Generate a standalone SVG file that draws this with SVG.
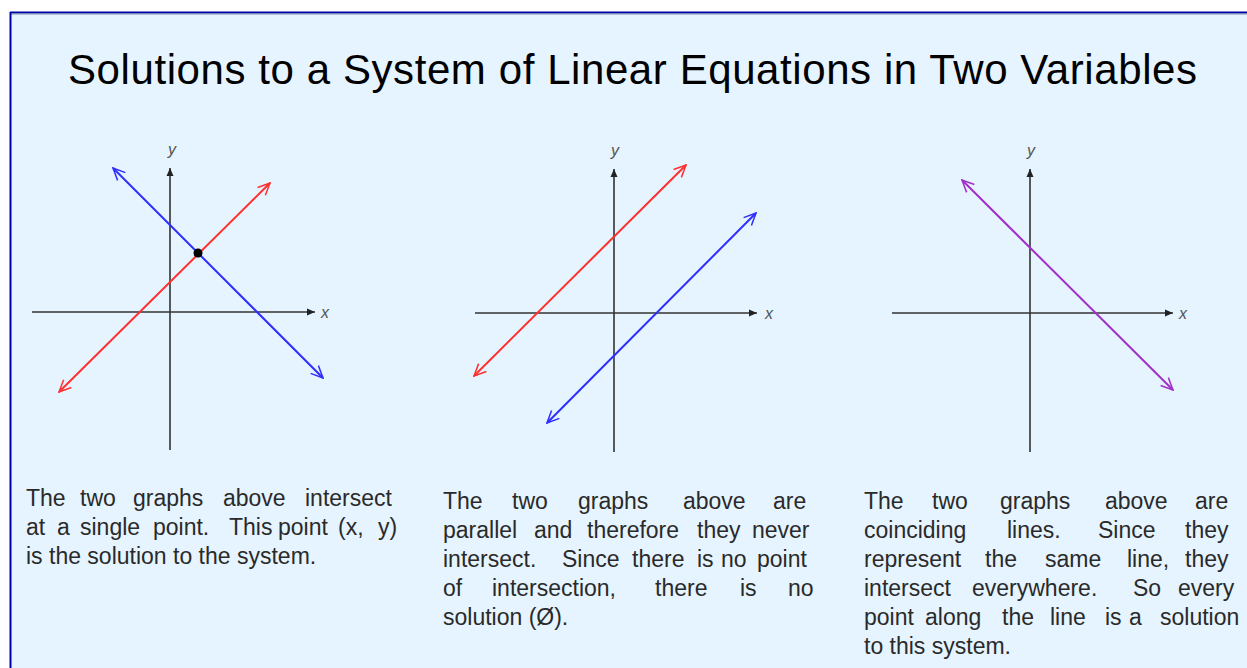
<svg xmlns="http://www.w3.org/2000/svg" width="1247" height="668" viewBox="0 0 1247 668">
<style>
.title{font-family:"Liberation Sans",Arial,sans-serif;font-size:42px;fill:#000}
.body{font-family:"Liberation Sans",Arial,sans-serif;font-size:23px;fill:#2a2a2a}
.lbl{font-family:"Liberation Sans",Arial,sans-serif;font-size:16px;font-style:italic;fill:#555;text-anchor:middle}
.axis{stroke:#333;stroke-width:1.6;fill:none;marker-end:url(#ax)}
.red{stroke:#FF3030;stroke-width:2;fill:none;marker-start:url(#mr);marker-end:url(#mr)}
.blue{stroke:#2E2EFF;stroke-width:2;fill:none;marker-start:url(#mb);marker-end:url(#mb)}
.purple{stroke:#A030C8;stroke-width:2;fill:none;marker-start:url(#mp);marker-end:url(#mp)}
</style>
<defs>
<marker id="ax" viewBox="-9 -5 10 10" refX="0" refY="0" markerWidth="10" markerHeight="10" markerUnits="userSpaceOnUse" orient="auto"><path d="M0,0 L-8,-3.5 L-8,3.5 Z" fill="#222"/></marker>
<marker id="mr" viewBox="-14 -7 15 14" refX="0" refY="0" markerWidth="15" markerHeight="14" markerUnits="userSpaceOnUse" orient="auto-start-reverse"><path d="M-12,-5.5 L0,0 L-12,5.5" fill="none" stroke="#FF3030" stroke-width="1.5"/></marker>
<marker id="mb" viewBox="-14 -7 15 14" refX="0" refY="0" markerWidth="15" markerHeight="14" markerUnits="userSpaceOnUse" orient="auto-start-reverse"><path d="M-12,-5.5 L0,0 L-12,5.5" fill="none" stroke="#2E2EFF" stroke-width="1.5"/></marker>
<marker id="mp" viewBox="-14 -7 15 14" refX="0" refY="0" markerWidth="15" markerHeight="14" markerUnits="userSpaceOnUse" orient="auto-start-reverse"><path d="M-12,-5.5 L0,0 L-12,5.5" fill="none" stroke="#A030C8" stroke-width="1.5"/></marker>
</defs>
<rect x="0" y="0" width="1247" height="668" fill="#fff"/>
<rect x="10" y="12" width="1237" height="656" fill="#E6F4FF"/>
<path d="M10,12.5 H1247" stroke="#0000A8" stroke-width="2"/>
<path d="M10,14 H1247" stroke="#8090A8" stroke-width="1"/>
<path d="M10.5,12 V668" stroke="#0000A8" stroke-width="2"/>

<text id="title" class="title" x="68" y="84" textLength="1129" lengthAdjust="spacing">Solutions to a System of Linear Equations in Two Variables</text>

<g id="graph1">
<path class="axis" d="M32,312 H315"/>
<path class="axis" d="M170,450 V168"/>
<text class="lbl" x="172" y="155">y</text>
<text class="lbl" x="325" y="318">x</text>
</g>
<g id="graph2">
<path class="axis" d="M475,313 H757"/>
<path class="axis" d="M614,452 V169"/>
<text class="lbl" x="615" y="156">y</text>
<text class="lbl" x="769" y="319">x</text>
</g>
<g id="graph3">
<path class="axis" d="M892,313 H1173"/>
<path class="axis" d="M1030,452 V169"/>
<text class="lbl" x="1031" y="156">y</text>
<text class="lbl" x="1183" y="319">x</text>
</g>

<g id="connectors">
<path class="blue" d="M113,168 L323,378"/>
<path class="red" d="M59,392 L270,183"/>
<path class="red" d="M474,376 L686,165"/>
<path class="blue" d="M547,423 L756,213"/>
<path class="purple" d="M962,180 L1173,390"/>
</g>
<circle id="solution-point" cx="198" cy="253" r="4.5" fill="#000"/>

<g id="caption1" class="body">
<text y="506"><tspan x="26">The</tspan><tspan x="80">two</tspan><tspan x="133">graphs</tspan><tspan x="223">above</tspan><tspan x="305">intersect</tspan></text>
<text y="535"><tspan x="26">at</tspan><tspan x="57">a</tspan><tspan x="80">single</tspan><tspan x="153">point.</tspan><tspan x="229">This</tspan><tspan x="278">point</tspan><tspan x="338">(x,</tspan><tspan x="378">y)</tspan></text>
<text x="26" y="564">is the solution to the system.</text>
</g>

<g id="caption2" class="body">
<text y="509"><tspan x="443">The</tspan><tspan x="512">two</tspan><tspan x="578">graphs</tspan><tspan x="683">above</tspan><tspan x="773">are</tspan></text>
<text y="538"><tspan x="443">parallel</tspan><tspan x="534">and</tspan><tspan x="587">therefore</tspan><tspan x="697">they</tspan><tspan x="752">never</tspan></text>
<text y="567"><tspan x="443">intersect.</tspan><tspan x="562">Since</tspan><tspan x="632">there</tspan><tspan x="697">is</tspan><tspan x="721">no</tspan><tspan x="757">point</tspan></text>
<text y="596"><tspan x="443">of</tspan><tspan x="492">intersection,</tspan><tspan x="655">there</tspan><tspan x="740">is</tspan><tspan x="788">no</tspan></text>
<text x="443" y="625">solution (Ø).</text>
</g>

<g id="caption3" class="body">
<text y="509"><tspan x="864">The</tspan><tspan x="932">two</tspan><tspan x="1000">graphs</tspan><tspan x="1105">above</tspan><tspan x="1195">are</tspan></text>
<text y="538"><tspan x="864">coinciding</tspan><tspan x="1007">lines.</tspan><tspan x="1098">Since</tspan><tspan x="1185">they</tspan></text>
<text y="567"><tspan x="864">represent</tspan><tspan x="985">the</tspan><tspan x="1045">same</tspan><tspan x="1127">line,</tspan><tspan x="1185">they</tspan></text>
<text y="596"><tspan x="864">intersect</tspan><tspan x="972">everywhere.</tspan><tspan x="1133">So</tspan><tspan x="1178">every</tspan></text>
<text y="625"><tspan x="864">point</tspan><tspan x="925">along</tspan><tspan x="1002">the</tspan><tspan x="1050">line</tspan><tspan x="1105">is</tspan><tspan x="1129">a</tspan><tspan x="1160">solution</tspan></text>
<text x="864" y="654">to this system.</text>
</g>
</svg>
